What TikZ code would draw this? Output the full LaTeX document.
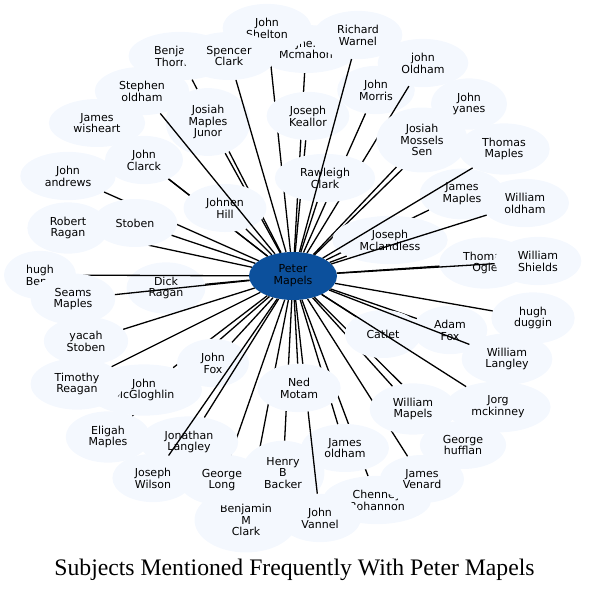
\documentclass[tikz,border=0pt]{standalone}
\usepackage{fontspec}
\setmainfont{DejaVu Sans}
\newfontfamily\titlefont{Liberation Serif}
\usetikzlibrary{shapes.geometric}
\definecolor{leaffill}{HTML}{F4F8FE}
\definecolor{hubfill}{HTML}{0C509C}

\begin{document}
\begin{tikzpicture}[
    x=1pt, y=-1pt,
    every node/.style = {font=\fontsize{11}{11.8}\selectfont, align=center},
    leaf/.style       = {ellipse, fill=leaffill, inner xsep=10.5pt, inner ysep=6.9pt,
                         minimum width=72pt, minimum height=48pt},
    hub/.style        = {ellipse, fill=hubfill, inner sep=0pt,
                         minimum width=88pt, minimum height=48pt},
    spoke/.style      = {line width=1.3pt}
    ]
      \useasboundingbox (0,0) rectangle (589,590);

      % centre ---------------------------------------------------
      \node[hub] (peter) at (293,276) {Peter\\Mapels};

      % leaves, each followed by its spoke -----------------------
      \node[leaf] (mcmahon)    at (306,49)  {Jne.\\Mcmahon};           \draw[spoke] (peter) -- (mcmahon);
      \node[leaf] (shelton)    at (267,28)  {John\\Shelton};           \draw[spoke] (peter) -- (shelton);
      \node[leaf] (thornton)   at (180,56)  {Benjamin\\Thornton};      \draw[spoke] (peter) -- (thornton);
      \node[leaf] (wisheart)   at (97,123)  {James\\wisheart};         \draw[spoke] (peter) -- (wisheart);
      \node[leaf] (clarck)     at (144,160) {John\\Clarck};            \draw[spoke] (peter) -- (clarck);
      \node[leaf] (andrews)    at (68,176)  {John\\andrews};           \draw[spoke] (peter) -- (andrews);
      \node[leaf] (rragan)     at (68,228)  {Robert\\Ragan};           \draw[spoke] (peter) -- (rragan);
      \node[leaf] (morris)     at (376,90)  {John\\Morris};            \draw[spoke] (peter) -- (morris);
      \node[leaf] (yanes)      at (469,104) {John\\yanes};             \draw[spoke] (peter) -- (yanes);
      \node[leaf] (joldham)    at (423,63)  {john\\Oldham};            \draw[spoke] (peter) -- (joldham);
      \node[leaf] (jmaples)    at (462,194) {James\\Maples};           \draw[spoke] (peter) -- (jmaples);
      \node[leaf] (junor)      at (208,122) {Josiah\\Maples\\Junor};   \draw[spoke] (peter) -- (junor);
      \node[leaf] (keallor)    at (308,116) {Joseph\\Keallor};         \draw[spoke] (peter) -- (keallor);
      \node[leaf] (mossels)    at (422,140) {Josiah\\Mossels\\Sen};    \draw[spoke] (peter) -- (mossels);
      \node[leaf] (hill)       at (225,208) {Johnen\\Hill};            \draw[spoke] (peter) -- (hill);
      \node[leaf] (stoben)     at (135,223) {Stoben};                  \draw[spoke] (peter) -- (stoben);
      \node[leaf] (stephen)    at (142,91)  {Stephen\\oldham};         \draw[spoke] (peter) -- (stephen);
      \node[leaf] (spencer)    at (229,56)  {Spencer\\Clark};          \draw[spoke] (peter) -- (spencer);
      \node[leaf] (rawleigh)   at (325,178) {Rawleigh\\Clark};         \draw[spoke] (peter) -- (rawleigh);
      \node[leaf] (warnel)     at (358,35)  {Richard\\Warnel};         \draw[spoke] (peter) -- (warnel);
      \node[leaf] (mclandless) at (390,240) {Joseph\\Mclandless};      \draw[spoke] (peter) -- (mclandless);
      \node[leaf] (woldham)    at (525,203) {William\\oldham};         \draw[spoke] (peter) -- (woldham);
      \node[leaf] (tmaples)    at (504,149) {Thomas\\Maples};          \draw[spoke] (peter) -- (tmaples);
      \node[leaf] (ogle)       at (485,263) {Thomas\\Ogle};            \draw[spoke] (peter) -- (ogle);
      \node[leaf] (shields)    at (538,261) {William\\Shields};        \draw[spoke] (peter) -- (shields);
      \node[leaf] (dick)       at (166,288) {Dick\\Ragan};             \draw[spoke] (peter) -- (dick);
      \node[leaf] (hughben)    at (40,275)  {hugh\\Benn};              \draw[spoke] (peter) -- (hughben);
      \node[leaf] (seams)      at (73,299)  {Seams\\Maples};           \draw[spoke] (peter) -- (seams);
      \node[leaf] (yacah)      at (86,341)  {yacah\\Stoben};           \draw[spoke] (peter) -- (yacah);
      \node[leaf] (eligah)     at (108,437) {Eligah\\Maples};          \draw[spoke] (peter) -- (eligah);
      \node[leaf] (mcgloghlin) at (144,390) {John\\McGloghlin};        \draw[spoke] (peter) -- (mcgloghlin);
      \node[leaf] (timothy)    at (77,384)  {Timothy\\Reagan};         \draw[spoke] (peter) -- (timothy);
      \node[leaf] (fox)        at (213,363) {John\\Fox};               \draw[spoke] (peter) -- (fox);
      \node[leaf] (bclark)     at (246,520) {Benjamin\\M\\Clark};      \draw[spoke] (peter) -- (bclark);
      \node[leaf] (glong)      at (222,480) {George\\Long};            \draw[spoke] (peter) -- (glong);
      \node[leaf] (jlangley)   at (189,442) {Jonathan\\Langley};       \draw[spoke] (peter) -- (jlangley);
      \node[leaf] (wilson)     at (153,478) {Joseph\\Wilson};          \draw[spoke] (peter) -- (wilson);
      \node[leaf] (hufflan)    at (463,445) {George\\hufflan};         \draw[spoke] (peter) -- (hufflan);
      \node[leaf] (bohannon)   at (377,500) {Chenney\\Bohannon};       \draw[spoke] (peter) -- (bohannon);
      \node[leaf] (venard)     at (422,479) {James\\Venard};           \draw[spoke] (peter) -- (venard);
      \node[leaf] (wmapels)    at (413,409) {William\\Mapels};         \draw[spoke] (peter) -- (wmapels);
      \node[leaf] (jamesoldham) at (345,448) {James\\oldham};          \draw[spoke] (peter) -- (jamesoldham);
      \node[leaf] (backer)     at (283,473) {Henry\\B\\Backer};        \draw[spoke] (peter) -- (backer);
      \node[leaf] (vannel)     at (320,518) {John\\Vannel};            \draw[spoke] (peter) -- (vannel);
      \node[leaf] (motam)      at (299,388) {Ned\\Motam};              \draw[spoke] (peter) -- (motam);
      \node[leaf] (adamfox)    at (450,330) {Adam\\Fox};               \draw[spoke] (peter) -- (adamfox);
      \node[leaf] (catlet)     at (383,334) {Catlet};                  \draw[spoke] (peter) -- (catlet);
      \node[leaf] (wlangley)   at (507,359) {William\\Langley};        \draw[spoke] (peter) -- (wlangley);
      \node[leaf] (jorg)       at (498,407) {Jorg\\mckinney};          \draw[spoke] (peter) -- (jorg);
      \node[leaf] (duggin)     at (533,318) {hugh\\duggin};            \draw[spoke] (peter) -- (duggin);

      % title ----------------------------------------------------
      \node[anchor=base, inner sep=0pt, font=\titlefont\fontsize{23.7}{28}\selectfont]
            (title) at (294.5,575) {Subjects Mentioned Frequently With Peter Mapels};
\end{tikzpicture}
\end{document}
